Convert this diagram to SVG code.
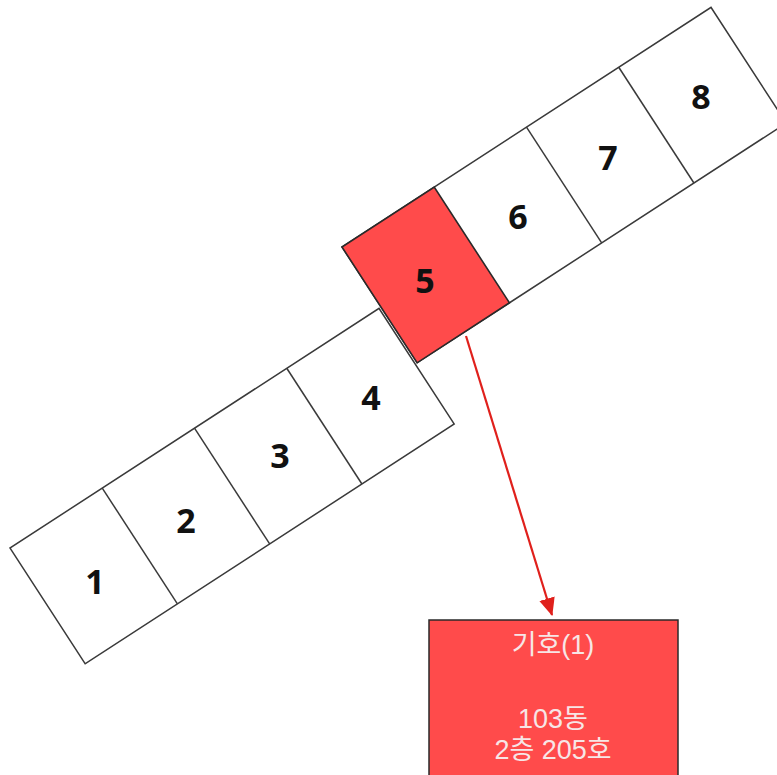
<svg xmlns="http://www.w3.org/2000/svg" width="777" height="775" viewBox="0 0 777 775">
<style>
.cell{fill:#ffffff;stroke:#3a3a3a;stroke-width:1.5}
.div{stroke:#3a3a3a;stroke-width:1.5}
.hot{fill:#ff4b4b;stroke:#2a2a2a;stroke-width:1.6}
.num{font-family:"Noto Sans","Liberation Sans",sans-serif;font-weight:bold;font-size:34px;fill:#111;text-anchor:middle}
.lbl{font-family:"Liberation Sans","Noto Sans CJK KR",sans-serif;font-size:27px;fill:#f7e6e6;text-anchor:middle}
.arrow{stroke:#e0201c;stroke-width:2.2}
</style>
<defs>
<marker id="ah" markerWidth="18" markerHeight="16" refX="17" refY="8" orient="auto" markerUnits="userSpaceOnUse" viewBox="0 0 18 16">
<path d="M0,0 L18,8 L0,16 z" fill="#e0201c"/>
</marker>
</defs>
<rect width="777" height="775" fill="#ffffff"/>
<g id="strip-lower" transform="translate(10,548) rotate(-33)">
<rect class="cell" x="0" y="0" width="440" height="138"/>
<line class="div" x1="110" y1="0" x2="110" y2="138"/>
<line class="div" x1="220" y1="0" x2="220" y2="138"/>
<line class="div" x1="330" y1="0" x2="330" y2="138"/>
</g>
<g id="strip-upper" transform="translate(342,247) rotate(-33)">
<rect class="cell" x="0" y="0" width="440" height="138"/>
<line class="div" x1="220" y1="0" x2="220" y2="138"/>
<line class="div" x1="330" y1="0" x2="330" y2="138"/>
</g>
<g id="node1"><text class="num" x="95" y="594">1</text></g>
<g id="node2"><text class="num" x="186" y="533">2</text></g>
<g id="node3"><text class="num" x="280" y="468">3</text></g>
<g id="node4"><text class="num" x="371" y="410">4</text></g>
<g id="node5">
<rect class="hot" x="0" y="0" width="110" height="138" transform="translate(342,247) rotate(-33)"/>
<text class="num" x="425" y="293">5</text>
</g>
<g id="node6"><text class="num" x="518" y="229">6</text></g>
<g id="node7"><text class="num" x="608" y="170">7</text></g>
<g id="node8"><text class="num" x="701" y="109">8</text></g>
<g id="connectors">
<line class="arrow" x1="466" y1="336" x2="552" y2="615" marker-end="url(#ah)"/>
</g>
<g id="info">
<rect x="429" y="620" width="249" height="170" fill="#ff4b4b" stroke="#2a2a2a" stroke-width="1.5"/>
<text class="lbl" x="553" y="654">기호(1)</text>
<text class="lbl" x="553" y="728">103동</text>
<text class="lbl" x="553" y="759">2층 205호</text>
</g>
</svg>
